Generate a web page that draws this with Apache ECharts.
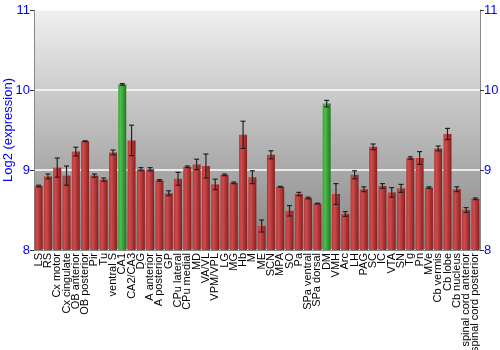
<!DOCTYPE html>
<html>
<head>
<meta charset="utf-8">
<script src="https://cdn.jsdelivr.net/npm/echarts@6/dist/echarts.min.js"></script>
<style>
  html, body { margin: 0; padding: 0; background: #fff; }
  #chart { width: 500px; height: 350px; }
</style>
</head>
<body>
<div id="chart"></div>
<script>
// regions along the x axis
const regions = ['LS', 'RS', 'Cx motor', 'Cx cingulate', 'OB anterior', 'OB posterior', 'Pir', 'Tu',
  'ventral S', 'CA1', 'CA2/CA3', 'DG', 'A anterior', 'A posterior', 'GP', 'CPu lateral', 'CPu medial',
  'MD', 'VA/VL', 'VPM/VPL', 'LG', 'MG', 'Hb', 'M', 'ME', 'SCN', 'MPA', 'SO', 'Pa', 'SPa ventral',
  'SPa dorsal', 'DM', 'VMH', 'Arc', 'LH', 'PAG', 'SC', 'IC', 'VTA', 'SN', 'Tg', 'Pn', 'MVe',
  'Cb vermis', 'Cb lobe', 'Cb nucleus', 'spinal cord anterior', 'spinal cord posterior']
// mean log2 expression
const means = [8.80, 8.92, 9.03, 8.93, 9.23, 9.36, 8.93, 8.88,
  9.22, 10.07, 9.37, 9.01, 9.01, 8.87, 8.71, 8.89, 9.04,
  9.07, 9.05, 8.82, 8.94, 8.84, 9.44, 8.91, 8.30, 9.19, 8.79, 8.49, 8.70, 8.65,
  8.58, 9.83, 8.70, 8.45, 8.94, 8.76, 9.29, 8.80, 8.72, 8.77, 9.15, 9.15, 8.78,
  9.27, 9.45, 8.76, 8.50, 8.64]
// error (+/-)
const errors = [0.01, 0.03, 0.12, 0.12, 0.055, 0.005, 0.02, 0.02,
  0.03, 0.01, 0.19, 0.02, 0.02, 0.01, 0.03, 0.08, 0.01,
  0.065, 0.15, 0.065, 0.01, 0.01, 0.17, 0.08, 0.075, 0.05, 0.005, 0.065, 0.02, 0.01,
  0.005, 0.04, 0.13, 0.03, 0.05, 0.03, 0.035, 0.03, 0.06, 0.05, 0.015, 0.08, 0.01,
  0.03, 0.07, 0.03, 0.03, 0.01]
const highlighted = ['CA1', 'DM']
const yTicks = [8, 9, 10, 11]

const chart = echarts.init(document.getElementById('chart'))

const redFill = new echarts.graphic.LinearGradient(0, 0, 1, 0, [
  { offset: 0, color: '#b23a3a' },
  { offset: 0.3, color: '#cf4b4b' },
  { offset: 1, color: '#8a1e1e' }])
const greenFill = new echarts.graphic.LinearGradient(0, 0, 1, 0, [
  { offset: 0, color: '#3aa23a' },
  { offset: 0.3, color: '#4dbd4d' },
  { offset: 1, color: '#1d7a1d' }])

const yAxisCommon = {
  type: 'value',
  min: yTicks[0],
  max: yTicks[yTicks.length - 1],
  interval: 1,
  axisLine: { show: true, lineStyle: { color: '#888' } },
  axisTick: { show: true, length: 4, lineStyle: { color: '#333' } },
  axisLabel: { color: '#0000ff', fontSize: 13, fontFamily: 'Liberation Sans', margin: 4 }
}

chart.setOption({
  animation: false,
  grid: {
    left: 34, right: 20, top: 10, bottom: 100,
    containLabel: false,
    outerBoundsMode: 'none',
    show: true,
    borderWidth: 0,
    backgroundColor: new echarts.graphic.LinearGradient(0, 0, 0, 1, [
      { offset: 0, color: '#f0f0f0' },
      { offset: 1, color: '#858585' }])
  },
  xAxis: {
    type: 'category',
    data: regions,
    axisLine: { show: true, lineStyle: { color: '#888' } },
    axisTick: { show: false },
    axisLabel: {
      interval: 0, rotate: 90, color: '#000', fontSize: 11,
      fontFamily: 'Liberation Sans', margin: 3
    }
  },
  yAxis: [
    Object.assign({}, yAxisCommon, {
      name: 'Log2 (expression)',
      nameLocation: 'middle',
      nameGap: 19,
      nameMoveOverlap: false,
      nameTextStyle: { color: '#0000ff', fontSize: 13, fontFamily: 'Liberation Sans' },
      splitLine: { show: true, lineStyle: { color: '#ffffff', width: 1.5 } }
    }),
    Object.assign({}, yAxisCommon, {
      position: 'right',
      splitLine: { show: false }
    })
  ],
  series: [
    {
      type: 'bar',
      barWidth: '86%',
      data: means.map((v, i) => ({
        value: v,
        itemStyle: { color: highlighted.includes(regions[i]) ? greenFill : redFill }
      }))
    },
    {
      type: 'custom',
      z: 5,
      data: means.map((v, i) => [i, v - errors[i], v + errors[i]]),
      renderItem: (params, api) => {
        const lo = api.coord([api.value(0), api.value(1)])
        const hi = api.coord([api.value(0), api.value(2)])
        const x = lo[0]
        const cap = 2.5
        const style = { stroke: '#222', lineWidth: 1.2 }
        return {
          type: 'group',
          children: [
            { type: 'line', shape: { x1: x, y1: lo[1], x2: x, y2: hi[1] }, style },
            { type: 'line', shape: { x1: x - cap, y1: lo[1], x2: x + cap, y2: lo[1] }, style },
            { type: 'line', shape: { x1: x - cap, y1: hi[1], x2: x + cap, y2: hi[1] }, style }
          ]
        }
      }
    }
  ]
})
</script>
</body>
</html>
